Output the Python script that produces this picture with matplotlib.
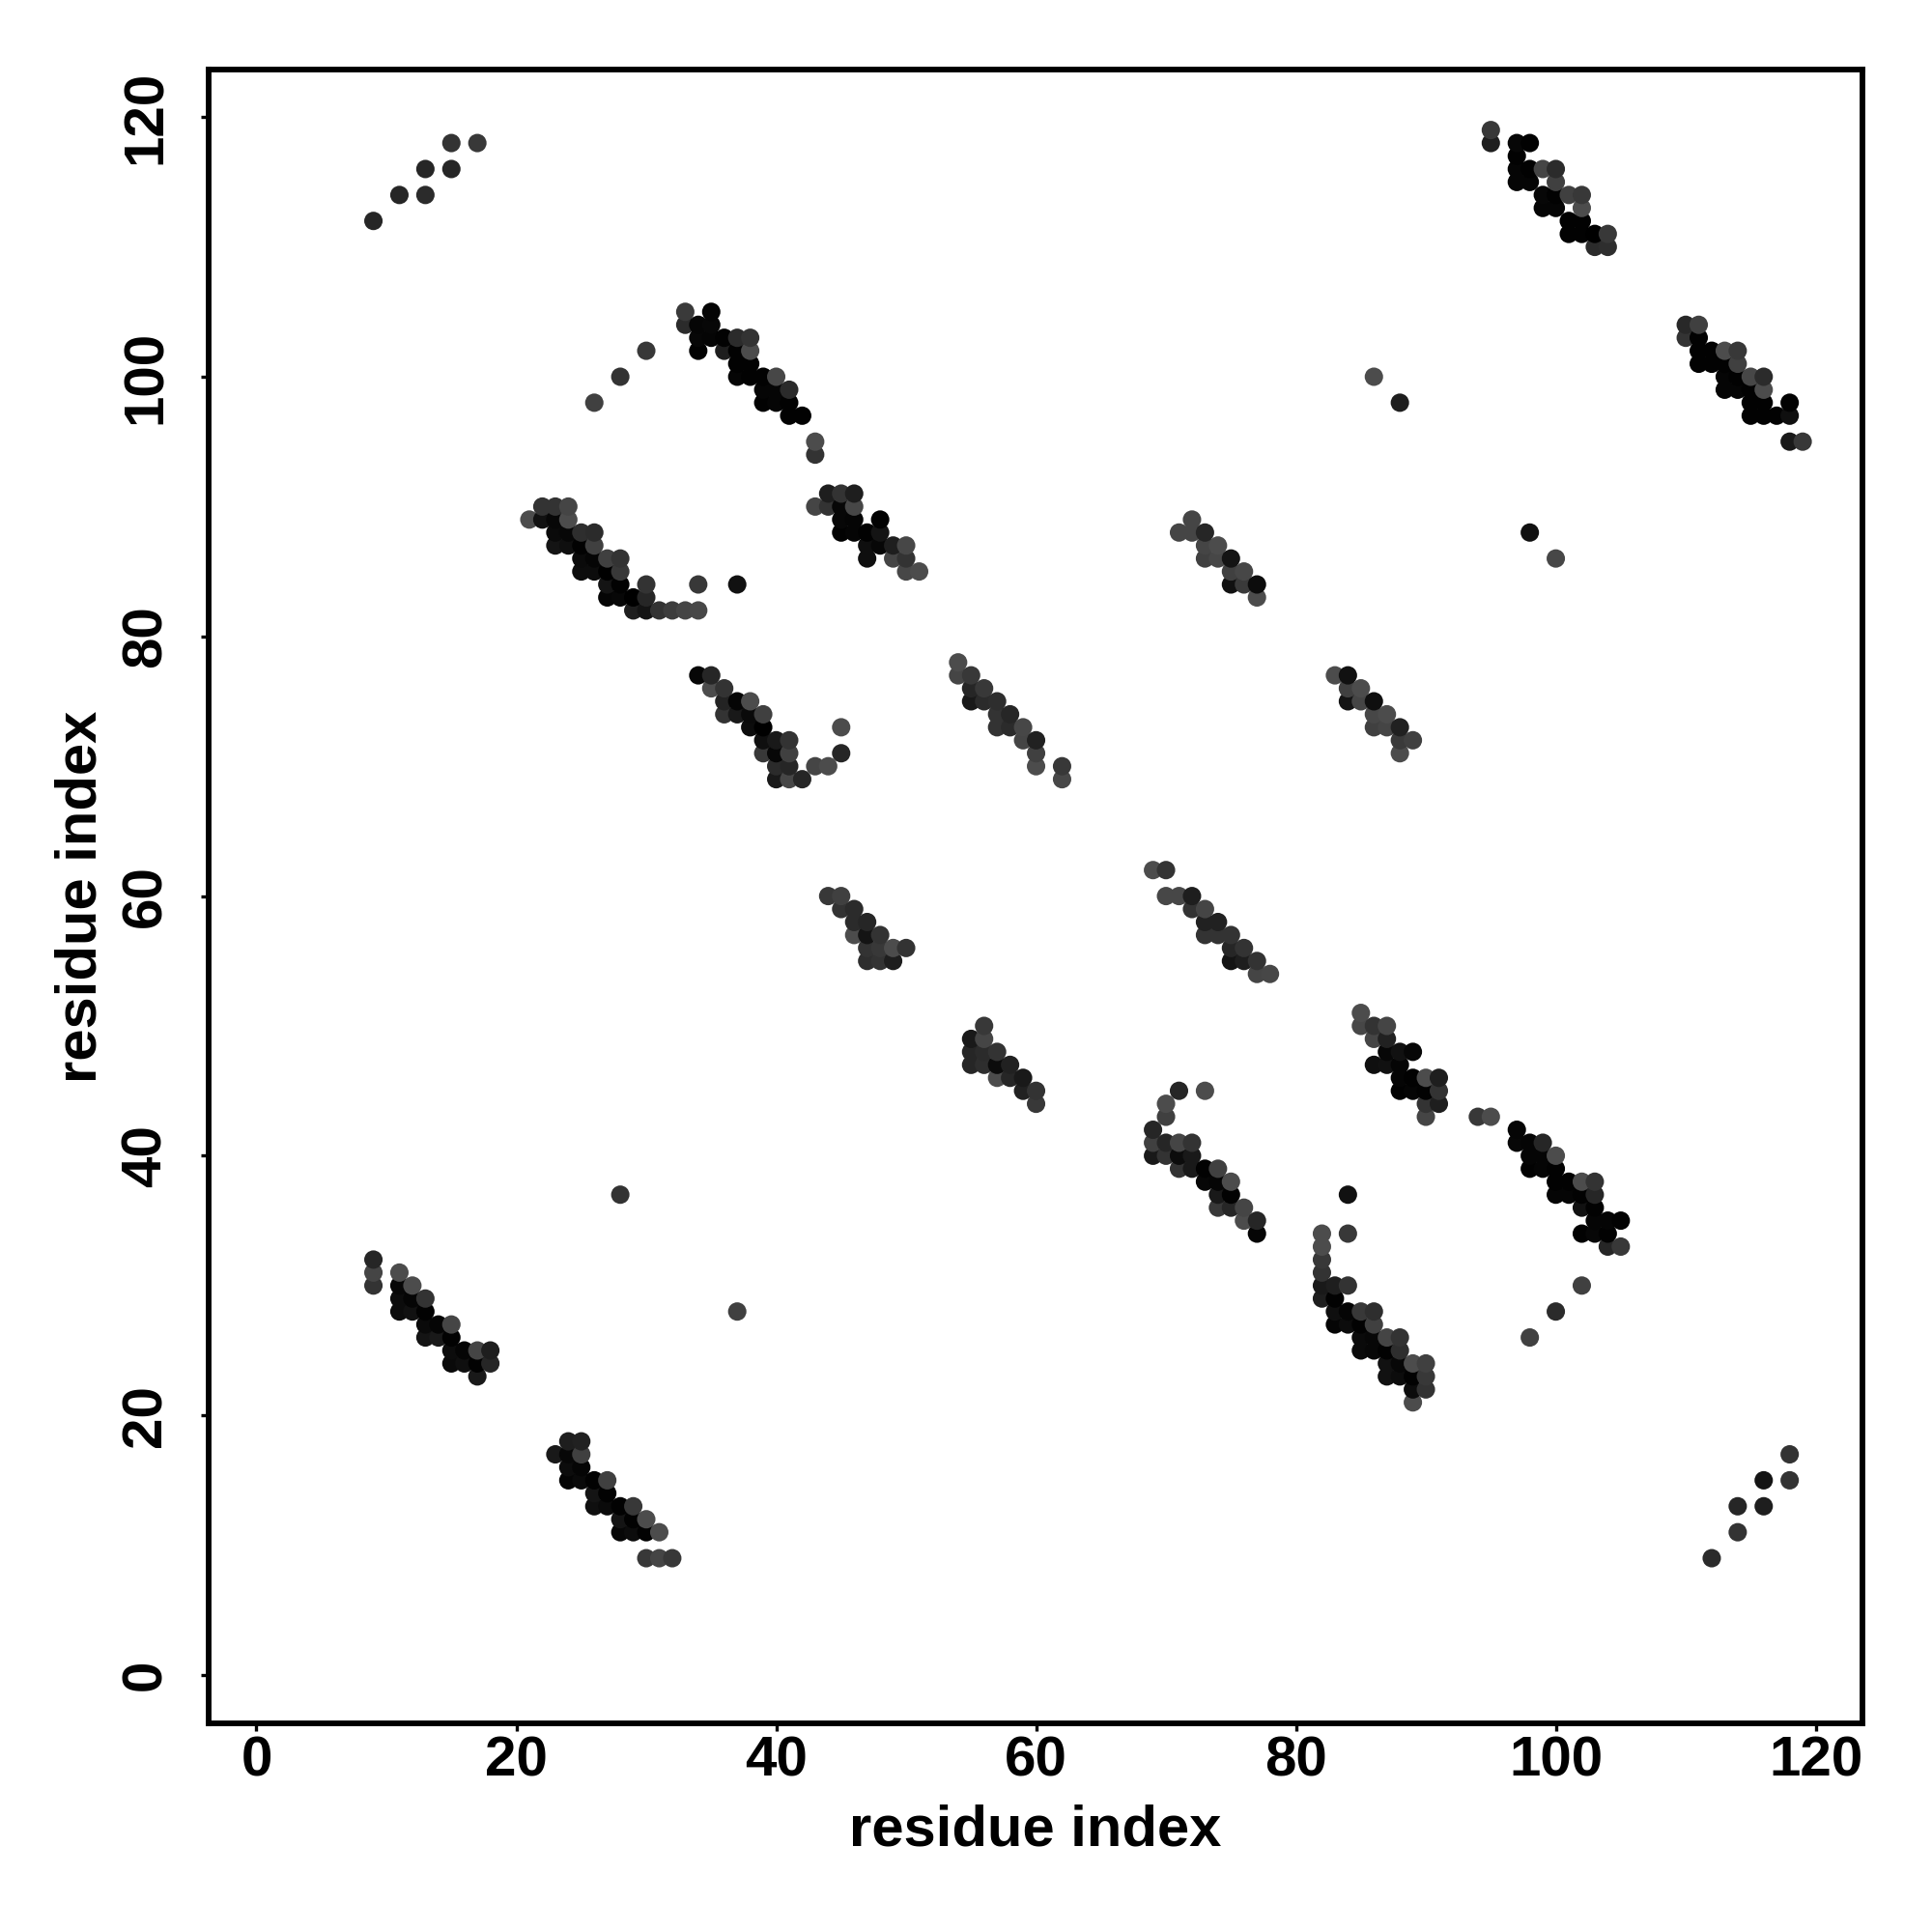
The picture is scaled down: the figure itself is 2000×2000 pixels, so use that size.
import numpy as np
import matplotlib
matplotlib.use('Agg')
import matplotlib.pyplot as plt

plt.rcParams['font.family'] = ['Liberation Sans', 'DejaVu Sans']

# each contact is (residue i, residue j, grey level)
corner_tl = [(9,112,.15),(11,114,.15),(13,116,.15),(13,114,.17),(15,118,.2),(15,116,.15),(17,118,.22)]
corner_br = [(112,9,.17),(114,11,.2),(114,13,.15),(116,13,.12),(116,15,.08),(118,15,.2),(118,17,.2)]
singles = [(28,37,.2),(37,28,.25),(86,100,.3),(88,98,.12),(98,88,.07),(100,86,.28),
           (30,102,.22),(28,100,.2),(26,98,.25),(102,30,.25),(100,28,.17),(98,26,.25)]

cluster_a = [(22,90,.2),(23,90,.2),(24,90,.27),
             (21,89,.3),(22,89,.07),(23,89,.03),(24,89,.3),
             (23,88,.04),(24,88,.03),(25,88,.18),(26,88,.17),
             (23,87,.08),(24,87,.06),(25,87,.01),(26,87,.25),
             (25,86,.04),(26,86,.02),(27,86,.25),(28,86,.2),
             (25,85,.05),(26,85,.05),(27,85,.0),(28,85,.22),
             (27,84,.08),(28,84,.01),(30,84,.2),(34,84,.22),(37,84,.07),
             (27,83,.02),(28,83,.03),(29,83,.0),(30,83,.15),
             (29,82,.12),(30,82,.08),(31,82,.2),(32,82,.24),(33,82,.27),(34,82,.28)]
cluster_b = [(44,91,.12),(45,91,.2),(46,91,.12),
             (43,90,.27),(44,90,.2),(45,90,.03),(46,90,.28),
             (45,89,.03),(46,89,.02),(48,89,.01),
             (45,88,.01),(46,88,.02),(47,88,.01),(48,88,.08),
             (47,87,.06),(48,87,.03),(49,87,.12),(50,87,.28),
             (47,86,.06),(49,86,.27),(50,86,.2),
             (50,85,.28),(51,85,.3)]
cluster_c = [(34,77,.03),(35,77,.15),
             (35,76,.3),(36,76,.2),
             (36,75,.14),(37,75,.02),(38,75,.3),
             (36,74,.2),(37,74,.1),(38,74,.04),(39,74,.25),
             (38,73,.05),(39,73,.0),(45,73,.3),
             (39,72,.06),(40,72,.1),(41,72,.2),
             (39,71,.22),(40,71,.03),(41,71,.25),(45,71,.15),
             (40,70,.17),(41,70,.15),(43,70,.27),(44,70,.3),
             (40,69,.1),(41,69,.28),(42,69,.15)]
cluster_d = [(54,78,.3),(54,77,.27),(55,77,.22),(55,76,.15),(56,76,.22),
             (55,75,.1),(56,75,.17),(57,75,.18),(57,74,.2),(58,74,.15),
             (57,73,.2),(58,73,.17),(59,73,.28),(59,72,.27),(60,72,.13),
             (60,71,.25),(60,70,.3),(62,70,.22),(62,69,.28)]
cluster_e = [(33,105,.23),(35,105,.02),
             (33,104,.17),(34,104,.02),(35,104,.03),
             (34,103,.03),(35,103,.02),(36,103,.01),(37,103,.17),(38,103,.2),
             (34,102,.01),(36,102,.12),(37,102,.01),(38,102,.3),
             (37,101,.01),(38,101,.01),
             (37,100,.02),(38,100,.01),(39,100,.01),(40,100,.28),
             (39,99,.02),(40,99,.02),(41,99,.17),
             (39,98,.01),(40,98,.02),(41,98,.01),
             (41,97,.01),(42,97,.01),(43,95,.3),(43,94,.2)]
cluster_f = [(95,119,.22),(95,118,.12),(97,118,.03),(98,118,.01),(97,117,.01),
             (97,116,.02),(98,116,.01),(99,116,.27),(100,116,.17),
             (97,115,.02),(98,115,.02),(100,115,.25),
             (99,114,.03),(100,114,.01),(101,114,.25),(102,114,.22),
             (99,113,.02),(100,113,.02),(102,113,.3),
             (101,112,.01),(102,112,.01),
             (101,111,.01),(102,111,.01),(103,111,.0),(104,111,.22),
             (103,110,.17),(104,110,.18)]
cluster_g = [(110,104,.16),(111,104,.25),(110,103,.2),(111,103,.01),
             (111,102,.01),(112,102,.01),(113,102,.3),(114,102,.22),
             (111,101,.01),(112,101,.01),(113,101,.01),(114,101,.25),
             (113,100,.02),(114,100,.01),(115,100,.28),(116,100,.17),
             (113,99,.02),(114,99,.02),(115,99,.01),(116,99,.3),
             (115,98,.01),(116,98,.01),(118,98,.01),
             (115,97,.01),(116,97,.01),(117,97,.01),(118,97,.06),
             (118,95,.1),(119,95,.22)]
cluster_h = [(85,51,.3),(85,50,.28),(86,50,.2),(87,50,.27),(86,49,.27),(87,49,.13),
             (87,48,.03),(88,48,.07),(89,48,.03),
             (86,47,.06),(87,47,.07),(88,47,.02),
             (88,46,.02),(89,46,.01),(90,46,.3),(91,46,.12),
             (88,45,.01),(89,45,.02),(90,45,.01),(91,45,.2),
             (90,44,.2),(91,44,.12),(90,43,.27)]
cluster_i = [(94,43,.22),(95,43,.3),(97,42,.02),(97,41,.03),(98,41,.02),(99,41,.15),
             (98,40,.02),(99,40,.02),(100,40,.3),
             (98,39,.01),(99,39,.02),(100,39,.01),
             (100,38,.01),(101,38,.01),(102,38,.3),(103,38,.2),
             (100,37,.02),(101,37,.02),(102,37,.01),(103,37,.15),
             (102,36,.07),(103,36,.01),
             (103,35,.02),(104,35,.02),(105,35,.01),
             (102,34,.01),(103,34,.03),(104,34,.01),
             (104,33,.15),(105,33,.22)]
cluster_j = [(84,37,.07),(82,34,.3),(84,34,.22),(82,33,.3),(82,32,.22),(82,31,.2),
             (82,30,.1),(83,30,.12),(84,30,.2),(82,29,.12),(83,29,.01),
             (83,28,.06),(84,28,.02),(85,28,.22),(86,28,.18),
             (83,27,.02),(84,27,.05),(85,27,.01),(86,27,.25),
             (85,26,.04),(86,26,.03),(87,26,.27),(88,26,.2),
             (85,25,.04),(86,25,.03),(87,25,.01),(88,25,.18),
             (87,24,.07),(88,24,.03),(89,24,.3),(90,24,.25),
             (87,23,.07),(88,23,.05),(89,23,.01),(90,23,.22),
             (89,22,.05),(90,22,.2),(89,21,.3)]
cluster_k = [(71,45,.15),(73,45,.3),(70,44,.3),(70,43,.25),(69,42,.15),
             (69,41,.25),(70,41,.15),(71,41,.27),(72,41,.2),
             (69,40,.1),(70,40,.2),(71,40,.05),(72,40,.1),
             (71,39,.2),(72,39,.1),(73,39,.01),(74,39,.25),
             (73,38,.03),(74,38,.02),(75,38,.3),(74,37,.1),(75,37,.01),
             (74,36,.22),(75,36,.15),(76,36,.27),(76,35,.3),(77,35,.15),(77,34,.02)]
cluster_l = [(9,32,.15),(9,31,.27),(11,31,.3),(9,30,.2),(11,30,.03),(12,30,.3),
             (11,29,.05),(12,29,.02),(13,29,.2),(11,28,.05),(12,28,.07),(13,28,.01),
             (13,27,.04),(14,27,.02),(15,27,.27),(13,26,.08),(14,26,.1),(15,26,.01),
             (15,25,.05),(16,25,.02),(17,25,.27),(18,25,.12),
             (15,24,.04),(16,24,.06),(17,24,.01),(18,24,.15),(17,23,.1)]
cluster_m = [(24,18,.12),(25,18,.13),(23,17,.1),(24,17,.03),(25,17,.25),
             (24,16,.05),(25,16,.02),(24,15,.02),(25,15,.04),(26,15,.01),(27,15,.25),
             (26,14,.08),(27,14,.01),(26,13,.06),(27,13,.04),(28,13,.01),(29,13,.22),
             (28,12,.08),(29,12,.01),(30,12,.3),(28,11,.03),(29,11,.05),(30,11,.01),(31,11,.3),
             (30,9,.22),(31,9,.27),(32,9,.22)]
cluster_n = [(44,60,.22),(45,60,.25),(45,59,.2),(46,59,.17),(46,58,.17),(47,58,.15),
             (46,57,.3),(47,57,.08),(48,57,.2),(47,56,.2),(48,56,.22),(49,56,.3),(50,56,.2),
             (47,55,.18),(48,55,.2),(49,55,.12)]
cluster_o = [(69,62,.3),(70,62,.2),(70,60,.28),(71,60,.28),(72,60,.12),(72,59,.2),(73,59,.27),
             (73,58,.13),(74,58,.13),(73,57,.2),(74,57,.2),(75,57,.2),(75,56,.15),(76,56,.2),
             (75,55,.08),(76,55,.12),(77,55,.2),(77,54,.27),(78,54,.28)]
cluster_p = [(56,50,.22),(55,49,.1),(56,49,.27),(55,48,.15),(56,48,.17),(57,48,.2),
             (55,47,.15),(56,47,.18),(57,47,.05),(58,47,.13),(57,46,.3),(58,46,.15),(59,46,.1),
             (59,45,.13),(60,45,.2),(60,44,.22)]
cluster_q = [(72,89,.27),(71,88,.27),(72,88,.27),(73,88,.15),(73,87,.27),(74,87,.3),
             (73,86,.25),(74,86,.28),(75,86,.08),(75,85,.25),(76,85,.28),
             (75,84,.07),(76,84,.23),(77,84,.05),(77,83,.3)]
cluster_r = [(83,77,.3),(84,77,.07),(84,76,.25),(85,76,.3),(84,75,.08),(85,75,.27),(86,75,.06),
             (86,74,.28),(87,74,.3),(86,73,.25),(87,73,.27),(88,73,.13),
             (88,72,.23),(89,72,.25),(88,71,.3)]

xticks = [0, 20, 40, 60, 80, 100, 120]
yticks = [0, 20, 40, 60, 80, 100, 120]

contacts = np.array(corner_tl + corner_br + singles + cluster_a + cluster_b + cluster_c
                    + cluster_d + cluster_e + cluster_f + cluster_g + cluster_h + cluster_i
                    + cluster_j + cluster_k + cluster_l + cluster_m + cluster_n + cluster_o
                    + cluster_p + cluster_q + cluster_r)
# later points sit on top: x first, then y
contacts = contacts[np.lexsort((contacts[:, 1], contacts[:, 0]))]

fig = plt.figure(figsize=(10, 10), dpi=200)
ax = fig.add_axes([0.108, 0.108, 0.856, 0.856])
ax.scatter(contacts[:, 0], contacts[:, 1], c=contacts[:, 2], cmap='gray', vmin=0, vmax=1,
           s=47, linewidths=0)
ax.set_xlim(-3.68, 123.6)
ax.set_ylim(-3.72, 123.66)
ax.set_xticks(xticks)
ax.set_yticks(yticks)
ax.tick_params(length=3, width=1.2, labelsize=21)
ax.tick_params(axis='x', pad=1.5)
ax.tick_params(axis='y', pad=10.5)
for lab in ax.get_xticklabels() + ax.get_yticklabels():
    lab.set_fontweight('bold')
for lab in ax.get_yticklabels():
    lab.set_rotation(90)
    lab.set_va('center')
for sp in ax.spines.values():
    sp.set_linewidth(2.1)

ax.set_xlabel('residue index', fontsize=21.5, fontweight='bold')
ax.set_ylabel('residue index', fontsize=21.5, fontweight='bold')
ax.xaxis.set_label_coords(0.5, -0.049)
ax.yaxis.set_label_coords(-0.0613, 0.5)

fig.savefig('out.png', dpi=200)
